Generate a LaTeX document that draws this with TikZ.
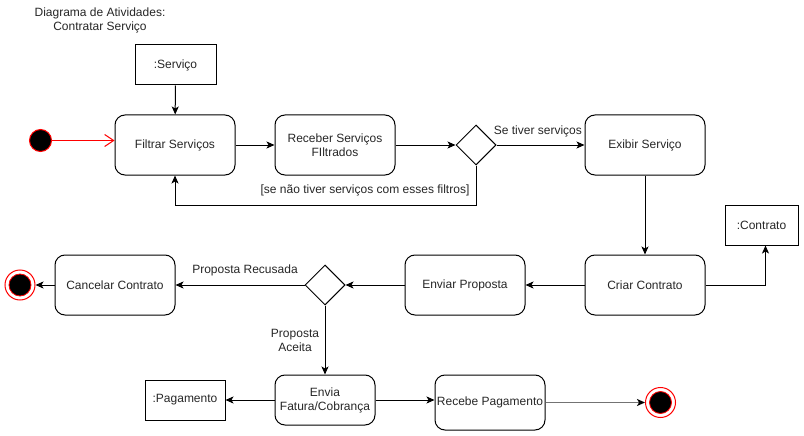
\documentclass[tikz,border=0pt]{standalone}
\usepackage{fontspec}
\setmainfont{Liberation Sans}
\usetikzlibrary{arrows.meta,shapes.geometric}
\begin{document}
\begin{tikzpicture}[x=1pt,y=-1pt,
  every node/.style={font=\fontsize{12}{14}\selectfont, text=black!85, inner sep=0pt},
  act/.style={draw, line width=1pt, rounded corners=10pt, align=center},
  obj/.style={draw, line width=1pt, align=center},
  dec/.style={draw, line width=1pt, diamond, aspect=1, minimum width=40pt, minimum height=40pt},
  flow/.style={draw, line width=1pt, -{Stealth[length=8pt,width=7pt,inset=2pt]}},
  lab/.style={align=center}
]
\useasboundingbox (0,0) rectangle (804,436);
% title
\node[lab] (title) at (100,20) {Diagrama de Atividades:\\Contratar Serviço};
% start
\node[circle, fill=black, draw=red, line width=1pt, minimum size=22pt] (start) at (40.5,140.5) {};
% objects
\node[obj, minimum width=81pt, minimum height=40pt] (serv) at (175.5,65) {:Serviço};
\node[obj, minimum width=73pt, minimum height=40pt] (contr) at (761.5,225) {:Contrato};
\node[obj, minimum width=80pt, minimum height=40pt] (pag) at (185,400) {:Pagamento};
% activities
\node[act, minimum width=120pt, minimum height=60pt] (filt) at (175,145) {Filtrar Serviços};
\node[act, minimum width=120pt, minimum height=60pt] (rec) at (335,145) {Receber Serviços\\FIltrados};
\node[act, minimum width=120pt, minimum height=60pt] (exib) at (645,145) {Exibir Serviço};
\node[act, minimum width=120pt, minimum height=60pt] (criar) at (645,285) {Criar Contrato};
\node[act, minimum width=120pt, minimum height=60pt] (envp) at (465,285) {Enviar Proposta};
\node[act, minimum width=120pt, minimum height=60pt] (canc) at (115,285) {Cancelar Contrato};
\node[act, minimum width=100pt, minimum height=50pt] (fat) at (325,400) {Envia\\Fatura/Cobrança};
\node[act, minimum width=110pt, minimum height=55pt] (receb) at (490,402.5) {Recebe Pagamento};
% decisions
\node[dec] (d1) at (476,145) {};
\node[dec] (d2) at (325,285) {};
% ends
\node[circle, draw=red, fill=white, line width=1pt, minimum size=30pt] (end1) at (20,285) {};
\node[circle, draw=red, fill=black, line width=0.8pt, minimum size=22pt] at (end1.center) {};
\node[circle, draw=red, fill=white, line width=1pt, minimum size=30pt] (end2) at (660.5,402.5) {};
\node[circle, draw=red, fill=black, line width=0.8pt, minimum size=22pt] at (end2.center) {};
% edges
\draw[red, line width=1pt, -{Straight Barb[length=9pt,width=12pt,line width=1pt]}] (start) -- (start -| filt.west);
\draw[flow] (serv) -- (filt);
\draw[flow] (filt) -- (rec);
\draw[flow] (rec) -- (d1);
\draw[flow] (d1) -- node[lab, above=7pt, pos=0.47] (l1) {Se tiver serviços} (exib);
\coordinate (lb1) at (476,205);
\coordinate (lb2) at (175,205);
\draw[flow] (d1.south) -- (lb1) -- (lb2) -- (filt.south);
\node[lab] (l2) at (365,190) {[se não tiver serviços com esses filtros]};
\draw[flow] (exib) -- (criar);
\coordinate (cc) at (765.5,285);
\draw[flow] (criar.east) -- (cc) -- (contr.south -| cc);
\draw[flow] (criar) -- (envp);
\draw[flow] (envp) -- (d2);
\draw[flow] (d2) -- (canc);
\node[lab] (l3) at (245,270) {Proposta Recusada};
\draw[flow] (canc) -- (end1);
\draw[flow] (d2) -- (fat);
\node[lab] (l4) at (295,340) {Proposta\\Aceita};
\draw[flow] (fat) -- (pag);
\draw[flow] (fat.east) -- (fat.east -| receb.west);
\draw[line width=1.2pt, draw=black!55, -{Stealth[length=8pt,width=7pt,inset=2pt,black]}] (receb) -- (end2);
\end{tikzpicture}
\end{document}
